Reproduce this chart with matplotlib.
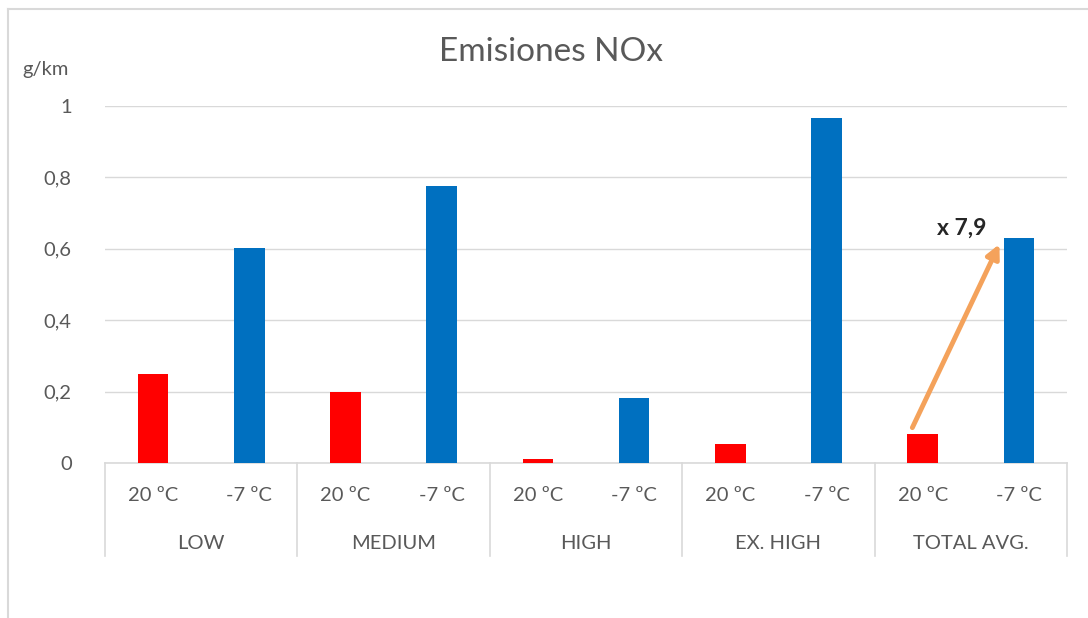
import matplotlib
matplotlib.use("Agg")
import matplotlib.pyplot as plt
import matplotlib.transforms as mtransforms
from matplotlib.lines import Line2D
import numpy as np

# NOx emissions per driving phase, at 20 ºC and -7 ºC
phases = ["LOW", "MEDIUM", "HIGH", "EX. HIGH", "TOTAL AVG."]
temps = ["20 ºC", "-7 ºC"]
nox_warm = [0.25, 0.20, 0.012, 0.052, 0.080]
nox_cold = [0.602, 0.776, 0.181, 0.966, 0.630]
ratio_label = "x 7,9"

warm_color = "#FF0000"
cold_color = "#0070C0"
text_color = "#595959"
line_color = "#D9D9D9"
label_size = 14.5

plt.rcParams["font.family"] = ["Lato", "DejaVu Sans"]

fig = plt.figure(figsize=(10.88, 6.18), dpi=100)
ax = fig.add_axes([105 / 1088, 1 - 463 / 618, (1067 - 105) / 1088, (463 - 106) / 618])

# interleave the two temperatures: one slot per bar
values = []
colors = []
labels = []
for w, c in zip(nox_warm, nox_cold):
    values += [w, c]
    colors += [warm_color, cold_color]
    labels += temps
positions = np.arange(len(values))

ax.bar(positions, values, width=0.32, color=colors, zorder=3)

ax.set_xlim(-0.5, len(values) - 0.5)
ax.set_ylim(0, 1)
ax.set_yticks([0, 0.2, 0.4, 0.6, 0.8, 1])
ax.set_yticklabels(["0", "0,2", "0,4", "0,6", "0,8", "1"])
ax.yaxis.grid(True, color=line_color, linewidth=1, zorder=0)
ax.tick_params(axis="y", length=0, pad=24, labelsize=label_size, labelcolor=text_color)

ax.set_xticks(positions)
ax.set_xticklabels(labels)
ax.tick_params(axis="x", length=0, pad=17, labelsize=label_size, labelcolor=text_color)

for side in ["top", "right", "left"]:
    ax.spines[side].set_visible(False)
ax.spines["bottom"].set_color(line_color)
ax.spines["bottom"].set_linewidth(1.2)

# group labels and separators under the axis
trans = mtransforms.blended_transform_factory(ax.transData, ax.transAxes)
for i, phase in enumerate(phases):
    ax.text(2 * i + 0.5, -0.225, phase, transform=trans, ha="center", va="center",
            fontsize=label_size, color=text_color)
for x in np.arange(-0.5, len(values), 2):
    ax.plot([x, x], [0, -0.26], transform=trans, color=line_color,
            linewidth=1.2, clip_on=False)

# ratio arrow on the total average
ax.annotate("", xy=(9 - 0.19, nox_cold[-1] - 0.01), xytext=(8 - 0.12, nox_warm[-1] + 0.012),
            arrowprops=dict(arrowstyle="-|>", color="#F4A25B", lw=3.5, mutation_scale=20),
            zorder=4)
ax.text(8.41, nox_cold[-1] + 0.028, ratio_label, ha="center", va="center",
        fontsize=16.5, fontweight="bold", color="#262626", zorder=5)

fig.text(0.506, 1 - 52 / 618, "Emisiones NOx", fontsize=24, color=text_color,
         ha="center", va="center")
fig.text(22 / 1088, 1 - 70 / 618, "g/km", fontsize=label_size, color=text_color,
         ha="left", va="center")

# chart frame (left and top edges)
fig.add_artist(Line2D([8 / 1088, 8 / 1088], [0, 1 - 9 / 618], color=line_color, linewidth=1.5))
fig.add_artist(Line2D([8 / 1088, 1], [1 - 9 / 618, 1 - 9 / 618], color=line_color, linewidth=1.5))

fig.savefig("out.png", dpi=100, facecolor="white")
